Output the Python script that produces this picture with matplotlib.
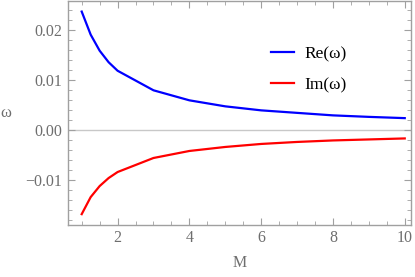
import matplotlib as mpl
import matplotlib.pyplot as plt
import numpy as np
from matplotlib.ticker import MultipleLocator

mpl.rcParams["font.family"] = ["Liberation Serif", "DejaVu Serif"]

# values
M = [1, 1.25, 1.5, 1.75, 2, 3, 4, 5, 6, 7, 8, 9, 10]
re_omega = [0.0236, 0.0190, 0.0158, 0.0135, 0.0118, 0.0079, 0.0059,
            0.0047, 0.0039, 0.0034, 0.0029, 0.0026, 0.00235]
im_omega = [-0.0168, -0.0134, -0.0112, -0.0096, -0.0084, -0.0056, -0.0042,
            -0.0034, -0.0028, -0.0024, -0.0021, -0.0019, -0.0017]

gray = "#6e6e6e"
frame = "#a0a0a0"

fig = plt.figure(figsize=(4.15, 2.77), dpi=100)
ax = fig.add_axes([0.164, 0.188, 0.826, 0.81])

ax.axhline(0, color="#c8c8c8", lw=1.0, zorder=1)
ax.plot(M, re_omega, color="#0000ff", lw=1.6, label="Re(ω)", zorder=3)
ax.plot(M, im_omega, color="#ff0000", lw=1.6, label="Im(ω)", zorder=3)

ax.set_xlim(0.62, 10.17)
ax.set_ylim(-0.01895, 0.0258)

ax.xaxis.set_major_locator(MultipleLocator(2))
ax.xaxis.set_minor_locator(MultipleLocator(0.5))
ax.yaxis.set_major_locator(MultipleLocator(0.01))
ax.yaxis.set_minor_locator(MultipleLocator(0.002))
ax.yaxis.set_major_formatter(mpl.ticker.FuncFormatter(
    lambda v, p: f"{v:.2f}".replace("-", "\u2212") if abs(v) > 1e-9 else "0.00"))

for s in ax.spines.values():
    s.set_color(frame)
    s.set_linewidth(1.0)

ax.tick_params(which="both", direction="in", top=True, right=True,
               color=frame, labelcolor=gray, labelsize=11.5, pad=4)
ax.tick_params(which="major", length=5, width=0.8)
ax.tick_params(which="minor", length=3, width=0.6)

ax.set_xlabel("M", color=gray, fontsize=11.5, labelpad=6)
ax.set_ylabel("ω", color=gray, fontsize=12, rotation=0, labelpad=14,
              va="center")

ax.legend(loc="upper left", bbox_to_anchor=(0.547, 0.866), frameon=False,
          fontsize=12.5, handlelength=1.3, handletextpad=0.6, labelspacing=0.85)

fig.savefig("out.png", dpi=100)
